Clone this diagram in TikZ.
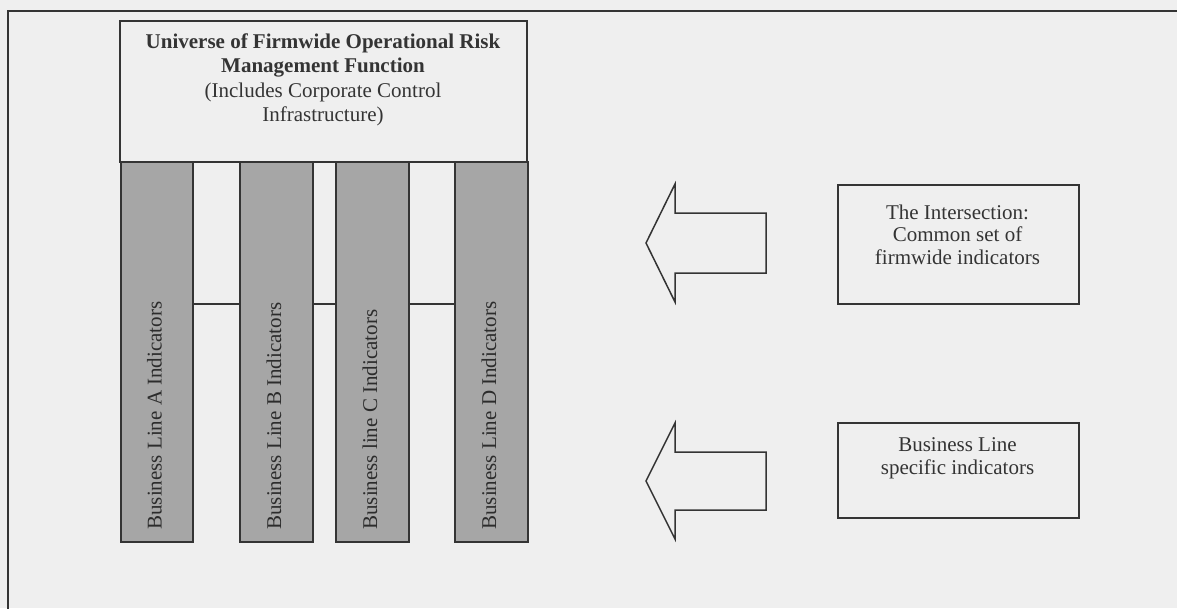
\documentclass[tikz,border=0pt]{standalone}
\usepackage{fontspec}
\setmainfont{Liberation Serif}
\usetikzlibrary{calc}
\definecolor{paper}{RGB}{239,239,239}
\definecolor{ink}{RGB}{52,52,52}
\definecolor{barfill}{RGB}{166,166,166}
\tikzset{
  frame/.style={draw=ink, line width=2.2pt},
  panel/.style={draw=ink, line width=1.6pt, inner sep=0pt, anchor=north west},
  barbox/.style={panel, fill=barfill, line width=1.8pt, minimum width=73pt, minimum height=380pt},
  barlabel/.style={rotate=90, anchor=west, inner sep=0pt, text=ink!85!black,
                   font=\fontsize{21}{24}\selectfont},
  caption/.style={align=center, inner sep=0pt, text=ink,
                  font=\fontsize{21}{22.5}\selectfont},
  link/.style={draw=ink, line width=1.5pt},
  blockarrow/.style={draw=ink, line width=1.5pt, line join=miter}
}
\begin{document}
\begin{tikzpicture}[x=1pt, y=-1pt]
  % page and outer frame
  \fill[paper] (0,0) rectangle (1177,608);
  \useasboundingbox (0,0) rectangle (1177,608);
  \draw[frame] (1180,11) -- (8,11) -- (8,612);

  % firmwide function box
  \node[panel, minimum width=407pt, minimum height=141pt] (hdr) at (119,20) {};
  \node[caption, font=\fontsize{21}{24.5}\selectfont] (hdrtext) at (323,80)
    {\textbf{Universe of Firmwide Operational Risk}\\
     \textbf{Management Function}\\
     (Includes Corporate Control\\
     Infrastructure)};

  % business line columns
  \node[barbox, minimum width=72pt] (A) at (120,161) {};
  \node[barbox] (B) at (239,161) {};
  \node[barbox] (C) at (335,161) {};
  \node[barbox] (D) at (454,161) {};

  \node[barlabel] (Atext) at ($(A.south)+(-2.5,-13)$) {Business Line A Indicators};
  \node[barlabel] (Btext) at ($(B.south)+(-2.5,-13)$) {Business Line B Indicators};
  \node[barlabel] (Ctext) at ($(C.south)+(-2.5,-13)$) {Business line C Indicators};
  \node[barlabel] (Dtext) at ($(D.south)+(-2.5,-13)$) {Business Line D Indicators};

  % links between the columns
  \coordinate (lk) at (0,304);
  \draw[link] (A.east |- lk) -- (B.west |- lk);
  \draw[link] (B.east |- lk) -- (C.west |- lk);
  \draw[link] (C.east |- lk) -- (D.west |- lk);

  % indicator boxes on the right
  \node[panel, minimum width=241pt, minimum height=119pt] (inter) at (837,184) {};
  \node[caption] (intertext) at (957.5,234.5)
    {The Intersection:\\Common set of\\firmwide indicators};

  \node[panel, minimum width=241pt, minimum height=95pt] (spec) at (837,422) {};
  \node[caption] (spectext) at (957.5,458.5)
    {Business Line\\specific indicators};

  % block arrows pointing left
  \draw[blockarrow] (766,213) -- (675,213) -- (675,184) -- (646,243)
    -- (675,302) -- (675,273) -- (766,273) -- cycle;
  \draw[blockarrow] (766,452) -- (675,452) -- (675,423) -- (646,481)
    -- (675,539) -- (675,510) -- (766,510) -- cycle;
\end{tikzpicture}
\end{document}
